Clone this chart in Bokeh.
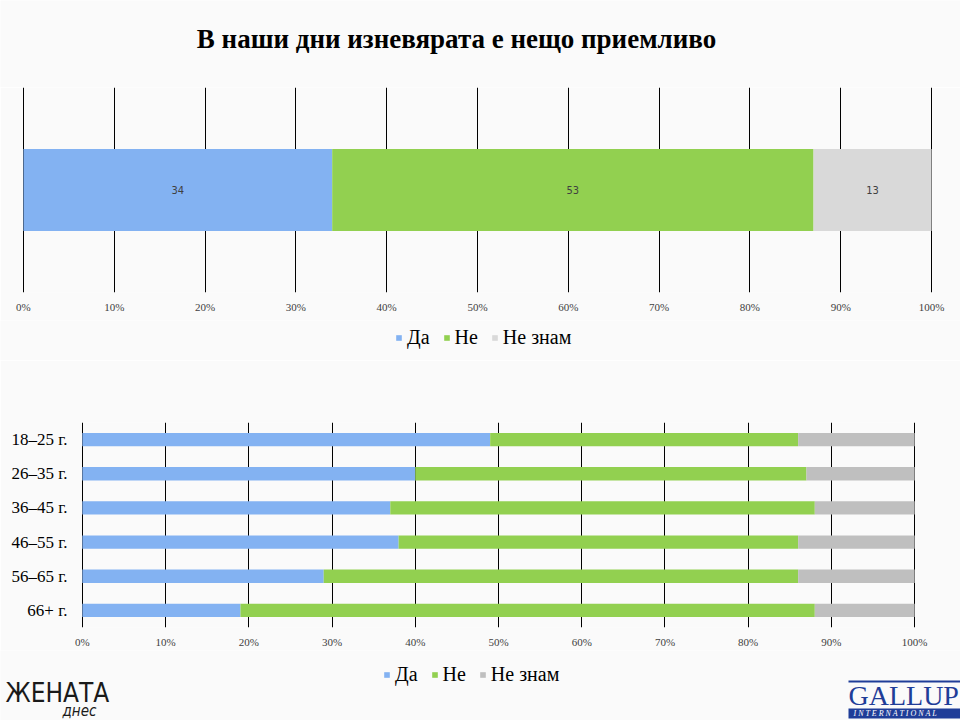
from bokeh.plotting import figure
from bokeh.models import (Range1d, FactorRange, FixedTicker, Legend, LegendItem, Label,
                          ColumnDataSource, BoxAnnotation)
from bokeh.embed import file_html
from bokeh.resources import INLINE
from bokeh.core.properties import value

# ---------------- data ----------------
title_text = "В наши дни изневярата е нещо приемливо"
series = ["Да", "Не", "Не знам"]

top_category = ["Общо"]
top_da = [34]
top_ne = [53]
top_nz = [13]

age_groups = ["18–25 г.", "26–35 г.", "36–45 г.", "46–55 г.", "56–65 г.", "66+ г."]
age_da = [49, 40, 37, 38, 29, 19]
age_ne = [37, 47, 51, 48, 57, 69]
age_nz = [14, 13, 12, 14, 14, 12]

tick_values = [0, 10, 20, 30, 40, 50, 60, 70, 80, 90, 100]
tick_labels = ["0%", "10%", "20%", "30%", "40%", "50%", "60%", "70%", "80%", "90%", "100%"]

top_colors = ["#83b2f2", "#92d050", "#d9d9d9"]
bottom_colors = ["#83b2f2", "#92d050", "#bfbfbf"]

BG = "#fafafa"
SERIF = "Liberation Serif"
NARROW = "'Liberation Sans Narrow', 'DejaVu Sans Condensed', 'Liberation Sans', sans-serif"
W = 960

top_src = ColumnDataSource(data={"cat": top_category, series[0]: top_da, series[1]: top_ne, series[2]: top_nz})
age_src = ColumnDataSource(data={"cat": age_groups, series[0]: age_da, series[1]: age_ne, series[2]: age_nz})


def blank(height, y_range=None, x_range=None):
    f = figure(width=W, height=height,
               x_range=x_range if x_range is not None else Range1d(0, 1),
               y_range=y_range if y_range is not None else Range1d(0, 1),
               x_axis_location=None, y_axis_location=None,
               output_backend="svg", toolbar_location=None,
               min_border_left=0, min_border_right=0, min_border_top=0, min_border_bottom=0)
    f.grid.visible = False
    f.outline_line_color = None
    f.background_fill_color = BG
    f.border_fill_color = BG
    return f


def style_x(p):
    p.xaxis.ticker = FixedTicker(ticks=tick_values)
    p.xaxis.major_label_overrides = dict(zip(tick_values, tick_labels))
    p.xaxis.major_label_text_font = SERIF
    p.xaxis.major_label_text_font_size = "11px"
    p.xaxis.major_label_text_color = "#404040"
    p.xaxis.axis_line_color = None
    p.xaxis.major_tick_line_color = None
    p.xaxis.minor_tick_line_color = None
    p.xaxis.major_tick_out = 0
    p.xaxis.major_tick_in = 0
    p.xaxis.major_label_standoff = 8
    p.xgrid.ticker = FixedTicker(ticks=tick_values)
    p.xgrid.grid_line_color = "#000000"
    p.xgrid.grid_line_width = 1
    p.ygrid.grid_line_color = None
    p.outline_line_color = None
    p.background_fill_color = BG
    p.border_fill_color = BG


def legend_strip(height, src, colors, loc):
    f = blank(height, y_range=FactorRange(factors=list(src.data["cat"])), x_range=Range1d(0, 100))
    rs = f.hbar_stack(series, y="cat", height=0.4, color=colors, line_color=None, source=src)
    for r in rs:
        r.visible = False
    f.add_layout(Legend(items=[LegendItem(label=s, renderers=[r]) for s, r in zip(series, rs)],
                        orientation="horizontal", location=loc,
                        label_text_font=SERIF, label_text_font_size="20px",
                        label_text_color="#000000",
                        glyph_width=7, glyph_height=7, label_standoff=5, spacing=13,
                        padding=0, margin=0, border_line_color=None, background_fill_alpha=0,
                        inactive_fill_alpha=0))
    return f


# ---------------- header ----------------
header = blank(87)
header.add_layout(Label(x=456, y=49, x_units="screen", y_units="screen", text=title_text,
                        text_align="center", text_baseline="middle", text_font=SERIF,
                        text_font_style="bold", text_font_size="27px", text_color="#000000"))

# ---------------- top chart ----------------
p1 = figure(width=W, height=233, x_range=Range1d(-0.1, 100.1),
            y_range=FactorRange(factors=top_category), y_axis_location=None,
            output_backend="svg", toolbar_location=None,
            min_border_left=22, min_border_right=28, min_border_top=0, min_border_bottom=28)
style_x(p1)
p1.hbar_stack(series, y="cat", height=0.4, color=top_colors, line_color=None, source=top_src)

lx, ly, lt = [], [], []
for i, c in enumerate(top_category):
    left = 0
    for v in (top_da[i], top_ne[i], top_nz[i]):
        lx.append(left + v / 2)
        ly.append(c)
        lt.append(str(v))
        left += v
p1.text(x="x", y="y", text="t", source=ColumnDataSource(data=dict(x=lx, y=ly, t=lt)),
        text_align="center", text_baseline="middle", text_font=value(NARROW),
        text_font_size="11px", text_color="#404040")

legend1 = legend_strip(40, top_src, top_colors, (395, 11))

# ---------------- bottom chart ----------------
p2 = figure(width=W, height=290, x_range=Range1d(-0.1, 100.1),
            y_range=FactorRange(factors=list(reversed(age_groups))),
            output_backend="svg", toolbar_location=None,
            min_border_left=81, min_border_right=45, min_border_top=62, min_border_bottom=22)
style_x(p2)
p2.yaxis.major_label_text_font = SERIF
p2.yaxis.major_label_text_font_size = "17px"
p2.yaxis.major_label_text_color = "#000000"
p2.yaxis.axis_line_color = None
p2.yaxis.major_tick_line_color = None
p2.yaxis.minor_tick_line_color = None
p2.yaxis.major_tick_out = 0
p2.yaxis.major_tick_in = 0
p2.yaxis.major_label_standoff = 14
p2.hbar_stack(series, y="cat", height=0.39, color=bottom_colors, line_color=None, source=age_src)

# ---------------- footer: legend + logos ----------------
footer = legend_strip(70, age_src, bottom_colors, (383, 34))
footer.add_layout(Label(x=5, y=28, x_units="screen", y_units="screen", text="ЖЕНАТА",
                        text_font=NARROW, text_font_size="26px", text_color="#1a1a1a",
                        text_baseline="alphabetic"))
footer.add_layout(Label(x=62, y=10, x_units="screen", y_units="screen", text="днес",
                        text_font=NARROW, text_font_style="italic", text_font_size="15px",
                        text_color="#1a1a1a", text_baseline="alphabetic"))
footer.add_layout(BoxAnnotation(left=848, right=960, bottom=38, top=40,
                                left_units="screen", right_units="screen",
                                bottom_units="screen", top_units="screen",
                                fill_color="#1f3d98", fill_alpha=1, line_color=None))
footer.add_layout(Label(x=848, y=25, x_units="screen", y_units="screen", text="GALLUP",
                        text_font=SERIF, text_font_size="28px", text_color="#1f3d98",
                        text_baseline="alphabetic"))
footer.add_layout(BoxAnnotation(left=848, right=960, bottom=2, top=12,
                                left_units="screen", right_units="screen",
                                bottom_units="screen", top_units="screen",
                                fill_color="#1f3d98", fill_alpha=1, line_color=None))
footer.add_layout(Label(x=853, y=7, x_units="screen", y_units="screen",
                        text="I N T E R N A T I O N A L",
                        text_font=SERIF, text_font_style="italic", text_font_size="8px",
                        text_color="#ffffff", text_baseline="middle"))

open("out.html", "w").write(file_html([header, p1, legend1, p2, footer], INLINE))
